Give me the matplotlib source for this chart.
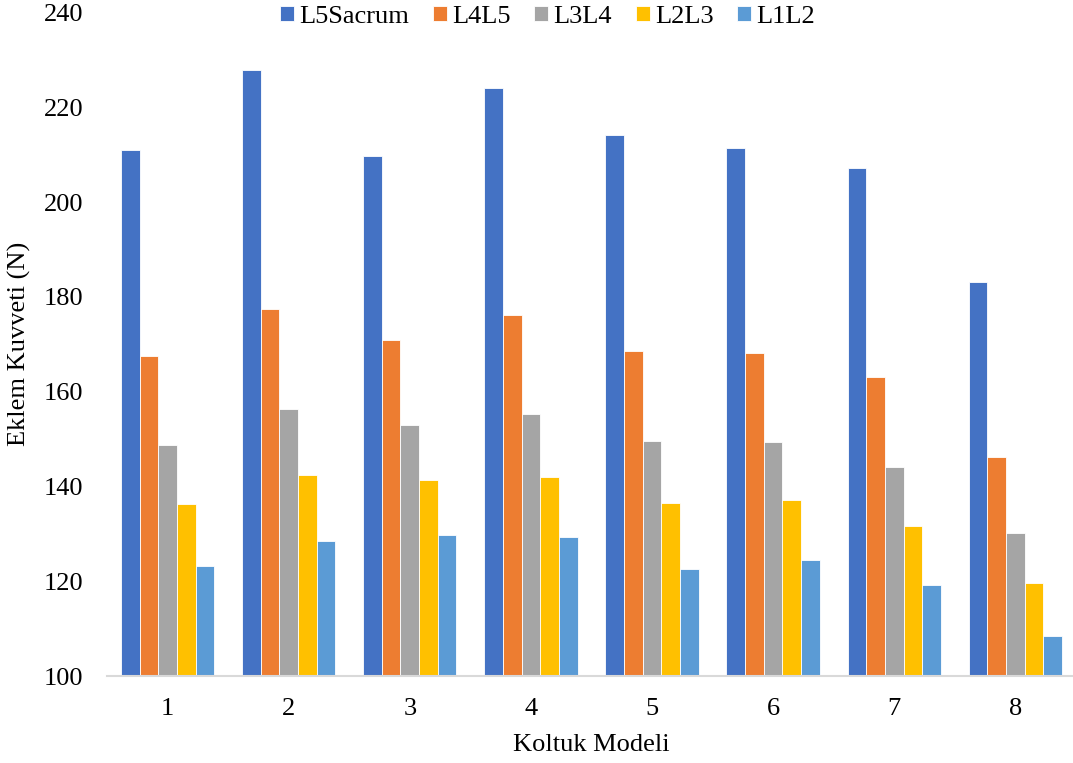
import numpy as np
import matplotlib
matplotlib.use("Agg")
import matplotlib.pyplot as plt

plt.rcParams['font.family'] = ['Liberation Serif', 'DejaVu Serif']

models = ['1', '2', '3', '4', '5', '6', '7', '8']
series = ['L5Sacrum', 'L4L5', 'L3L4', 'L2L3', 'L1L2']
colors = ['#4472C4', '#ED7D31', '#A5A5A5', '#FFC000', '#5B9BD5']

l5sacrum = [211.0, 227.8, 209.7, 224.1, 214.1, 211.4, 207.1, 183.1]
l4l5 = [167.5, 177.4, 170.9, 176.2, 168.6, 168.1, 163.1, 146.2]
l3l4 = [148.7, 156.3, 153.0, 155.2, 149.5, 149.4, 144.1, 130.2]
l2l3 = [136.3, 142.4, 141.4, 142.0, 136.5, 137.1, 131.7, 119.6]
l1l2 = [123.2, 128.5, 129.8, 129.3, 122.6, 124.5, 119.3, 108.4]
values = [l5sacrum, l4l5, l3l4, l2l3, l1l2]

fs = 19

fig = plt.figure(figsize=(10.73, 7.63), dpi=100)
ax = fig.add_axes([0.0997, 0.114, 0.903, 0.8697])

x = np.arange(1, len(models) + 1)
bw = 0.154
for i, (name, vals) in enumerate(zip(series, values)):
    ax.bar(x + (i - 2) * bw, np.array(vals) - 100, bw, bottom=100,
           color=colors[i], edgecolor='white', linewidth=0.6, label=name)

ax.set_xlim(0.5, 8.5)
ax.set_ylim(100, 240)
ax.set_yticks(range(100, 241, 20))
ax.set_xticks(x)
ax.set_xticklabels(models)
ax.tick_params(length=0, labelsize=fs)
ax.tick_params(axis='x', pad=16)
ax.tick_params(axis='y', pad=17)
for s in ['top', 'right', 'left']:
    ax.spines[s].set_visible(False)
ax.spines['bottom'].set_color('#D9D9D9')
ax.spines['bottom'].set_linewidth(1.5)

ax.set_xlabel('Koltuk Modeli', fontsize=fs, va='center')
ax.set_ylabel('Eklem Kuvveti (N)', fontsize=fs, va='center')
ax.xaxis.set_label_coords(0.5, -0.104)
ax.yaxis.set_label_coords(-0.09, 0.5)

handles, labels = ax.get_legend_handles_labels()
fig.legend(handles, labels, loc='center', bbox_to_anchor=(547.5 / 1073, 1 - 17 / 763),
           ncol=5, frameon=False, fontsize=fs, handlelength=0.53, handleheight=0.5,
           handletextpad=0.2, columnspacing=0.9, borderaxespad=0, borderpad=0)

fig.savefig('out.png', dpi=100)
